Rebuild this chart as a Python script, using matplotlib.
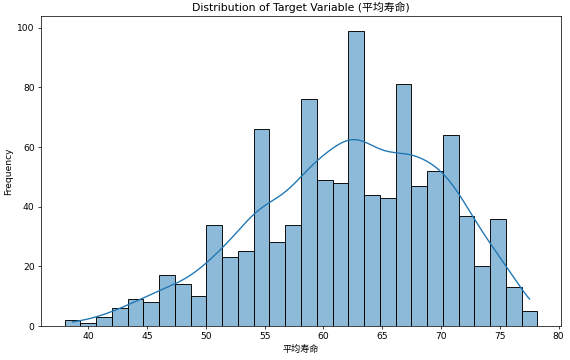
import numpy as np
import matplotlib
matplotlib.use("Agg")
import matplotlib.pyplot as plt
import seaborn as sns

# Histogram: 30 bins from 38.0 to 78.2
bin_lo = 38.0
bin_hi = 78.2
n_bins = 30
counts = [2, 1, 3, 6, 9, 8, 17, 14, 10, 34,
          23, 25, 66, 28, 34, 76, 49, 48, 99, 44,
          43, 81, 47, 52, 64, 37, 20, 36, 13, 5]

target_name = "平均寿命"

plt.rcParams['font.family'] = ['DejaVu Sans', 'Noto Sans CJK SC']

edges = np.linspace(bin_lo, bin_hi, n_bins + 1)
centers = (edges[:-1] + edges[1:]) / 2
# rebuild samples at bin centres so seaborn can draw bars + kde
values = np.repeat(centers, counts)

dpi = 65.5
fig, ax = plt.subplots(figsize=(570 / dpi, 360 / dpi), dpi=dpi)
fig.subplots_adjust(left=41 / 570, right=561 / 570, top=1 - 16 / 360, bottom=1 - 326 / 360)
sns.histplot(values, bins=edges, kde=True, edgecolor='black', ax=ax)
ax.set_title(f'Distribution of Target Variable ({target_name})')
ax.set_xlabel(target_name)
ax.set_ylabel('Frequency')
fig.savefig('out.png', dpi=dpi)
